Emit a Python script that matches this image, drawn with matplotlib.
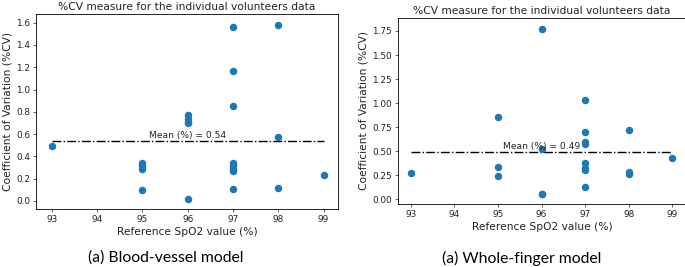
import matplotlib.pyplot as plt

# Blood-vessel model (left)
bv_spo2 = [93, 95, 95, 95, 95, 96, 96, 96, 96, 96,
           97, 97, 97, 97, 97, 97, 97, 97, 98, 98, 98, 99]
bv_cv = [0.49, 0.34, 0.31, 0.29, 0.10, 0.77, 0.74, 0.71, 0.70, 0.02,
         1.56, 1.17, 0.85, 0.34, 0.31, 0.29, 0.27, 0.11, 1.58, 0.57, 0.12, 0.23]
bv_mean = 0.54

# Whole-finger model (right)
wf_spo2 = [93, 95, 95, 95, 96, 96, 96, 96,
           97, 97, 97, 97, 97, 97, 97, 97, 98, 98, 98, 99]
wf_cv = [0.27, 0.86, 0.34, 0.24, 1.77, 0.52, 0.06, 0.05,
         1.03, 0.70, 0.60, 0.57, 0.38, 0.33, 0.30, 0.13, 0.72, 0.28, 0.26, 0.43]
wf_mean = 0.49

xticks = [93, 94, 95, 96, 97, 98, 99]
title = "%CV measure for the individual volunteers data"
captions = ["(a) Blood-vessel model", "(a) Whole-finger model"]

W, H = 685, 267
fig = plt.figure(figsize=(W / 100, H / 100), dpi=100)

def box(l, t, r, b):
    return [l / W, 1 - b / H, (r - l) / W, (b - t) / H]

ax1 = fig.add_axes(box(36, 14, 338, 209))
ax2 = fig.add_axes(box(398, 18, 686, 204))

panels = [(ax1, bv_spo2, bv_cv, bv_mean, [0, 0.2, 0.4, 0.6, 0.8, 1.0, 1.2, 1.4, 1.6], "%.1f",
           (92.65, 99.32), (-0.072, 1.678)),
          (ax2, wf_spo2, wf_cv, wf_mean, [0, 0.25, 0.5, 0.75, 1.0, 1.25, 1.5, 1.75], "%.2f",
           (92.71, 99.31), (-0.049, 1.885))]

tfs = 6.4
lfs = 7.7
for ax, x, y, m, yt, fmt, xl, yl in panels:
    ax.scatter(x, y, s=19, color="#1f77b4", zorder=3)
    ax.plot([min(xticks), max(xticks)], [m, m], "k-.", lw=1.0)
    ax.text(96, m + 0.01, "Mean (%%) = %.2f" % m, ha="center", va="bottom",
            fontsize=6.6, color="#222222")
    ax.set_xticks(xticks)
    ax.set_yticks(yt)
    ax.set_yticklabels([fmt % v for v in yt])
    ax.set_xlim(xl)
    ax.set_ylim(yl)
    ax.tick_params(labelsize=tfs, width=0.5, length=2.3, pad=2, colors="#222222")
    for s in ax.spines.values():
        s.set_linewidth(0.6)
    ax.set_title(title, fontsize=lfs, pad=3, color="#222222")
    ax.set_xlabel("Reference SpO2 value (%)", fontsize=lfs, labelpad=2.5, color="#222222")
    ax.set_ylabel("Coefficient of Variation (%CV)", fontsize=lfs, labelpad=2.6, color="#222222")

fig.text(166 / W, 1 - 258 / H, captions[0], ha="center", va="center",
         fontsize=11.3, family="Lato")
fig.text(522 / W, 1 - 258 / H, captions[1], ha="center", va="center",
         fontsize=11.3, family="Lato")

fig.savefig("out.png", dpi=100)
